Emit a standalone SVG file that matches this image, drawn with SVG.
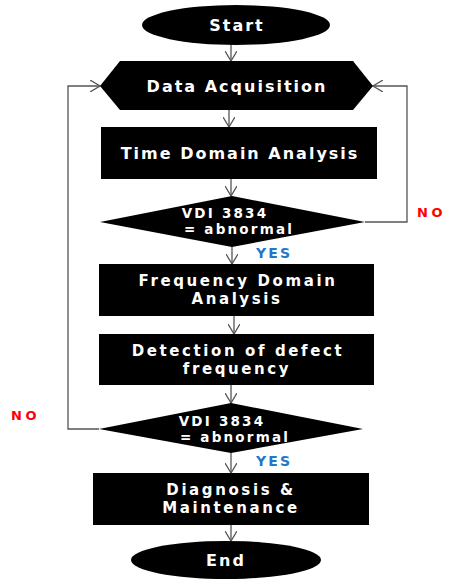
<svg xmlns="http://www.w3.org/2000/svg" width="449" height="580" viewBox="0 0 449 580">
<style>
.n{fill:#000}
.t{fill:#fff;font-family:"DejaVu Sans",sans-serif;font-weight:bold;font-size:16px;letter-spacing:2px;text-anchor:middle;dominant-baseline:central}
.m{font-size:15px;letter-spacing:2.6px}
.d{font-size:13.5px;letter-spacing:2.2px}
.c{fill:none;stroke:#555;stroke-width:1.3}
.yes{fill:#1f78c8;font-family:"DejaVu Sans",sans-serif;font-weight:bold;font-size:14px;letter-spacing:2.2px;dominant-baseline:central}
.no{fill:#ff0000;font-family:"DejaVu Sans",sans-serif;font-weight:bold;font-size:13px;letter-spacing:3.5px;dominant-baseline:central}
</style>
<defs>
<marker id="a" markerWidth="12" markerHeight="12" refX="10" refY="6" orient="auto" markerUnits="userSpaceOnUse">
<path d="M0,0 L10,6 L0,12" fill="none" stroke="#555" stroke-width="1.3"/>
</marker>
</defs>
<rect width="449" height="580" fill="#fff"/>
<g id="connectors">
<line class="c" x1="231" y1="44" x2="231" y2="61" marker-end="url(#a)"/>
<line class="c" x1="229" y1="110" x2="229" y2="127" marker-end="url(#a)"/>
<line class="c" x1="231" y1="179" x2="231" y2="196" marker-end="url(#a)"/>
<line class="c" x1="232" y1="247" x2="232" y2="264" marker-end="url(#a)"/>
<line class="c" x1="234" y1="316" x2="234" y2="334" marker-end="url(#a)"/>
<line class="c" x1="231" y1="385" x2="231" y2="403" marker-end="url(#a)"/>
<line class="c" x1="231" y1="453" x2="231" y2="473" marker-end="url(#a)"/>
<line class="c" x1="231" y1="525" x2="231" y2="541" marker-end="url(#a)"/>
<polyline class="c" points="365,222 407,222 407,86 373,86" marker-end="url(#a)"/>
<polyline class="c" points="99,429 68,429 68,86 100,86" marker-end="url(#a)"/>
<text class="no" x="417" y="212">NO</text>
<text class="no" x="11" y="415">NO</text>
<text class="yes" x="256" y="253">YES</text>
<text class="yes" x="256" y="461">YES</text>
</g>
<g id="start"><ellipse class="n" cx="236" cy="25" rx="94" ry="20"/><text class="t" x="237" y="25">Start</text></g>
<g id="data"><polygon class="n" points="100,86 120,61 353,61 373,86 353,110 120,110"/><text class="t" x="237" y="86">Data Acquisition</text></g>
<g id="time"><rect class="n" x="101" y="127" width="276" height="52"/><text class="t" x="240" y="153">Time Domain Analysis</text></g>
<g id="vdi1"><polygon class="n" points="100,222 232,196 365,222 232,247"/><text class="t d" x="225" y="213">VDI 3834</text><text class="t d" x="239" y="229">= abnormal</text></g>
<g id="freq"><rect class="n" x="99" y="264" width="275" height="52"/><text class="t m" x="238" y="281">Frequency Domain</text><text class="t m" x="237" y="299">Analysis</text></g>
<g id="detect"><rect class="n" x="99" y="334" width="275" height="51"/><text class="t m" x="238" y="351">Detection of defect</text><text class="t m" x="237" y="369">frequency</text></g>
<g id="vdi2"><polygon class="n" points="99,429 231,403 363,429 231,453"/><text class="t d" x="222" y="421">VDI 3834</text><text class="t d" x="235" y="437">= abnormal</text></g>
<g id="diag"><rect class="n" x="93" y="473" width="276" height="52"/><text class="t m" x="231" y="490">Diagnosis &amp;</text><text class="t m" x="231" y="508">Maintenance</text></g>
<g id="end"><ellipse class="n" cx="226" cy="560" rx="95" ry="19"/><text class="t" x="226" y="560">End</text></g>
</svg>
